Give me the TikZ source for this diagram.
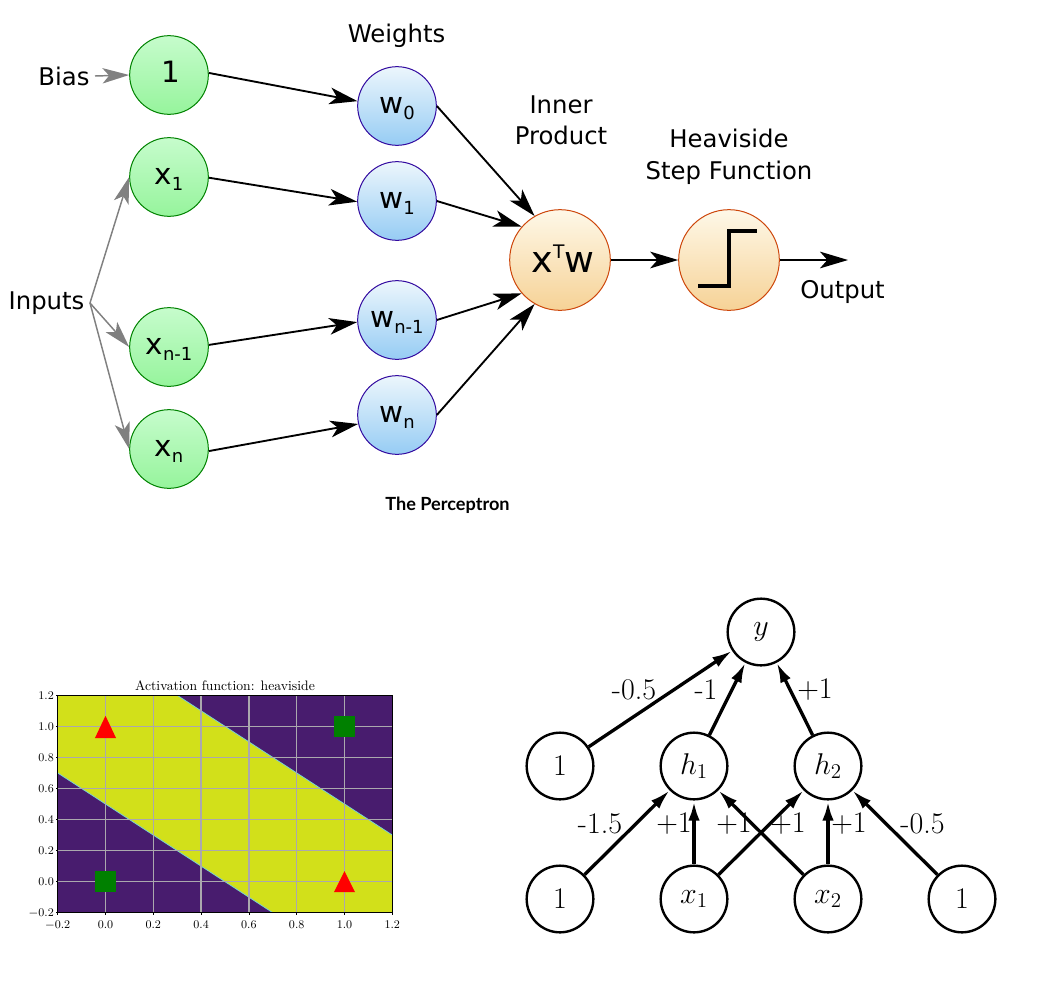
\RequirePackage{fix-cm}
\documentclass[tikz,border=0pt]{standalone}
\usepackage{fontspec}
\setmainfont{Latin Modern Roman}
\newfontfamily\vera{DejaVu Sans}
\newfontfamily\capfont{Lato}[BoldFont={Lato Bold}]
\usetikzlibrary{arrows.meta,shadings}
\definecolor{vpurple}{HTML}{481C6E}
\definecolor{vyellow}{HTML}{D2E01A}
\definecolor{gridc}{HTML}{ABA8AE}
\newcommand{\sz}[1]{\fontsize{#1}{#1}\selectfont}
\newcommand{\lowsub}[1]{\raisebox{-4.5pt}{\sz{13.5}#1}}
\tikzset{
  x=0.75pt,y=-0.75pt,
  perc/.style={circle,inner sep=0pt,line width=0.75pt,font=\vera\sz{22},text height=10.5pt,text depth=0pt},
  greenc/.style={perc,minimum size=59pt,draw={rgb,255:red,0;green,130;blue,0},top color={rgb,255:red,198;green,252;blue,204},bottom color={rgb,255:red,150;green,244;blue,156}},
  bluec/.style={perc,minimum size=59pt,draw={rgb,255:red,50;green,10;blue,160},top color={rgb,255:red,236;green,246;blue,252},bottom color={rgb,255:red,150;green,204;blue,244}},
  orangec/.style={perc,minimum size=75.5pt,draw={rgb,255:red,205;green,70;blue,10},top color={rgb,255:red,254;green,248;blue,232},bottom color={rgb,255:red,246;green,210;blue,150}},
  blackarrow/.style={black,line width=1.4pt,-{Stealth[length=21pt,width=12.5pt,inset=5.5pt]}},
  greyarrow/.style={gray,line width=1.1pt,-{Stealth[length=20pt,width=11.5pt,inset=5pt]}},
  lbl/.style={font=\vera\sz{18.25},inner sep=0pt,align=center},
  netc/.style={circle,draw=black,line width=1.8pt,minimum size=50pt,inner sep=0pt,font=\sz{22.5}},
  netarrow/.style={black,line width=2.5pt,-{Latex[length=15pt,width=8.5pt]}},
  netvert/.style={netarrow,line width=3pt},
  netlbl/.style={font=\sz{22.5},inner sep=0pt},
  tick/.style={font=\sz{8.8},inner sep=0pt,text height=5.8pt,text depth=0pt},
}
\begin{document}
\begin{tikzpicture}
\useasboundingbox (0,0) rectangle (1041,985);
% perceptron
\node[greenc,text height=11.5pt] (g0) at (169,75) {\hspace*{2.5pt}1};
\node[greenc] (g1) at (169,177) {x\lowsub{1}};
\node[greenc] (g2) at (169,347) {x\lowsub{n-1}};
\node[greenc] (g3) at (169,449) {x\lowsub{n}};
\node[bluec] (w0) at (397,106) {w\lowsub{0}};
\node[bluec] (w1) at (397,201) {w\lowsub{1}};
\node[bluec] (w2) at (397,320) {w\lowsub{n-1}};
\node[bluec] (w3) at (397,415) {w\lowsub{n}};
\node[orangec,font=\vera\sz{27.4},text height=18pt] (ip) at (560,260) {\hspace*{4.5pt}x\raisebox{10.5pt}{\sz{14}T}w};
\node[orangec] (hs) at (729,260) {};
\draw[black,line width=3pt] (698,286) -- (729,286) -- (729,231) -- (757,231);
\node[lbl] (bias) at (64,76) {Bias};
\node[lbl] (inputs) at (46.5,303.5) {Inputs};
\node[lbl] (weights) at (396.5,35.5) {Weights};
\node[lbl] (inner) at (561,120.5) {Inner\\[5pt]Product};
\node[lbl] (heav) at (729,156.5) {Heaviside\\[5.5pt]Step Function};
\node[lbl] (out) at (842.5,291.5) {Output};
\node[font=\capfont\bfseries\sz{13.6},inner sep=0pt] (cap) at (447.5,505.5) {The Perceptron};
\coordinate (bs) at (95,76);
\coordinate (fork) at (90,303);
\coordinate (oe) at (848,260);
\draw[greyarrow] (bs) -- (g0.west);
\draw[greyarrow] (fork) -- (g1.west);
\draw[greyarrow] (fork) -- (g2.west);
\draw[greyarrow] (fork) -- (g3.west);
\draw[blackarrow] (g0.3) -- (w0.173);
\draw[blackarrow] (g1.-1) -- (w1.181);
\draw[blackarrow] (g2.3) -- (w2.183);
\draw[blackarrow] (g3.-3) -- (w3.193);
\draw[blackarrow] (w0.0) -- (ip.120);
\draw[blackarrow] (w1.0) -- (ip.139);
\draw[blackarrow] (w2.0) -- (ip.221);
\draw[blackarrow] (w3.0) -- (ip.240);
\draw[blackarrow] (ip.east) -- (hs.west);
\draw[blackarrow] (hs.east) -- (oe);
% plot
\begin{scope}[shift={(57.7,912.7)},x=0.75pt*239,y=0.75pt*155.3,shift={(0.2,0.2)}]
\path[fill=vpurple] (-0.2,-0.2) rectangle (1.2,1.2);
\path[fill=vyellow] (-0.2,0.7) -- (0.7,-0.2) -- (1.2,-0.2) -- (1.2,0.3) -- (0.3,1.2) -- (-0.2,1.2) -- cycle;
\draw[color=gridc!60!cyan!90!white,line width=0.6pt] (-0.2,0.7) -- (0.7,-0.2) (1.2,0.3) -- (0.3,1.2);
\foreach \v in {0,0.2,0.4,0.6,0.8,1.0}{
  \draw[gridc,line width=1.15pt] (\v,-0.2) -- (\v,1.2) (-0.2,\v) -- (1.2,\v);
}
\foreach \v in {-0.2,0,0.2,0.4,0.6,0.8,1.0,1.2}{
  \draw[black,line width=0.4pt] (\v,-0.2) -- ++(0,-0.013);
  \draw[black,line width=0.4pt] (-0.2,\v) -- ++(-0.0087,0);
}
\draw[black,line width=0.5pt] (-0.2,-0.2) rectangle (1.2,1.2);
\fill[green!50!black] (-0.044,-0.068) rectangle (0.044,0.068);
\fill[green!50!black] (0.956,0.932) rectangle (1.044,1.068);
\fill[red] (-0.044,0.925) -- (0.044,0.925) -- (0,1.068) -- cycle;
\fill[red] (0.956,-0.068) -- (1.044,-0.068) -- (1,0.068) -- cycle;
\node[tick,anchor=north] at (-0.2,-0.252) {$-$0.2};
\node[tick,anchor=north] at (0,-0.252) {0.0};
\node[tick,anchor=north] at (0.2,-0.252) {0.2};
\node[tick,anchor=north] at (0.4,-0.252) {0.4};
\node[tick,anchor=north] at (0.6,-0.252) {0.6};
\node[tick,anchor=north] at (0.8,-0.252) {0.8};
\node[tick,anchor=north] at (1.0,-0.252) {1.0};
\node[tick,anchor=north] at (1.2,-0.252) {1.2};
\node[tick,anchor=east] at (-0.215,-0.2) {$-$0.2};
\node[tick,anchor=east] at (-0.215,0) {0.0};
\node[tick,anchor=east] at (-0.215,0.2) {0.2};
\node[tick,anchor=east] at (-0.215,0.4) {0.4};
\node[tick,anchor=east] at (-0.215,0.6) {0.6};
\node[tick,anchor=east] at (-0.215,0.8) {0.8};
\node[tick,anchor=east] at (-0.215,1.0) {1.0};
\node[tick,anchor=east] at (-0.215,1.2) {1.2};
\node[font=\sz{10.27},inner sep=0pt,anchor=base] (title) at (0.5,1.233) {Activation function: heaviside};
\end{scope}
% network
\node[netc] (y) at (761,632) {\raisebox{-0.75pt}{$y$}};
\node[netc] (b1) at (560,766) {1};
\node[netc] (h1) at (694,766) {$h_1$};
\node[netc] (h2) at (828,766) {$h_2$};
\node[netc] (b2) at (560,899) {1};
\node[netc] (x1) at (694,899) {$x_1$};
\node[netc] (x2) at (828,899) {$x_2$};
\node[netc] (b3) at (962,899) {1};
\draw[netarrow] (b1) -- (y.213);
\draw[netarrow] (h1) -- (y.243);
\draw[netarrow] (h2) -- (y.297);
\draw[netarrow] (b2) -- (h1.225);
\draw[netvert] (x1) -- (h1);
\draw[netarrow] (x2) -- (h1.315);
\draw[netarrow] (x1) -- (h2.225);
\draw[netvert] (x2) -- (h2);
\draw[netarrow] (b3) -- (h2.315);
\node[netlbl] (l1) at (634,690) {-0.5};
\node[netlbl] (l2) at (706,690) {-1};
\node[netlbl] (l3) at (815,690) {+1};
\node[netlbl] (l4) at (600,824) {-1.5};
\node[netlbl] (l5) at (674,824) {+1};
\node[netlbl] (l6) at (734,824) {+1};
\node[netlbl] (l7) at (788,824) {+1};
\node[netlbl] (l8) at (849,824) {+1};
\node[netlbl] (l9) at (922.5,824) {-0.5};
\end{tikzpicture}
\end{document}
